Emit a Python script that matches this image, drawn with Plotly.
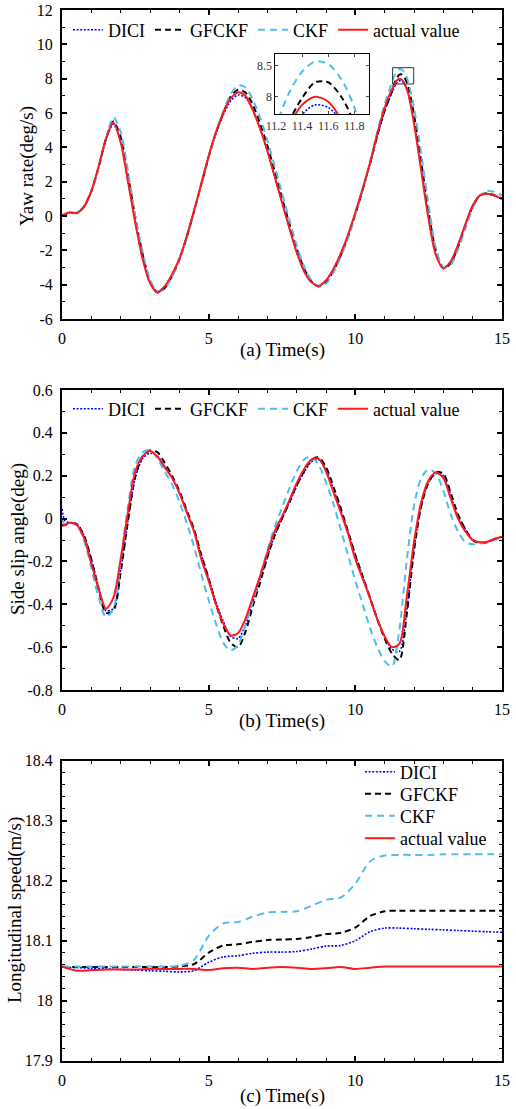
import plotly.graph_objects as go

# ---- data ----
series_names = ["DICI", "GFCKF", "CKF", "actual value"]

# (a) yaw rate
t_a = [0, 0.25, 0.5, 0.75, 1.0, 1.25, 1.5, 1.75, 2.0, 2.25, 2.5, 2.75, 3.0, 3.25, 3.5, 3.75,
       4.0, 4.25, 4.5, 4.75, 5.0, 5.25, 5.5, 5.75, 6.0, 6.25, 6.5, 6.75, 7.0, 7.25, 7.5, 7.75,
       8.0, 8.25, 8.5, 8.75, 9.0, 9.25, 9.5, 9.75, 10.0, 10.25, 10.5, 10.75, 11.0,
       11.2, 11.3, 11.4, 11.5, 11.6, 11.7, 11.8,
       12.0, 12.25, 12.5, 12.75, 13.0, 13.25, 13.5, 13.75, 14.0, 14.25, 14.5, 14.75, 15.0]
yaw_dici = [0.05, 0.2, 0.18, 0.55, 1.45, 2.85, 4.45, 5.35, 4.3, 2.05, -0.35, -2.45, -3.85, -4.4, -4.1, -3.4,
            -2.5, -1.2, 0.3, 1.85, 3.45, 4.8, 5.9, 6.7, 7.05, 6.9, 6.2, 5.1, 3.8, 2.3, 0.8, -0.7,
            -2.1, -3.2, -3.85, -4.05, -3.75, -3.1, -2.2, -1.15, 0.15, 1.5, 3.0, 4.65, 6.1,
            7.0, 7.38, 7.72, 7.87, 7.83, 7.61, 7.19,
            5.5, 2.7, -0.1, -2.25, -3.0, -2.65, -1.7, -0.5, 0.6, 1.2, 1.3, 1.18, 1.0]
yaw_gfckf = [0.02, 0.2, 0.18, 0.55, 1.45, 2.85, 4.5, 5.5, 4.6, 2.35, -0.1, -2.25, -3.8, -4.45, -4.2, -3.5,
             -2.55, -1.25, 0.25, 1.85, 3.45, 4.85, 6.0, 6.95, 7.35, 7.2, 6.5, 5.4, 4.1, 2.6, 1.05, -0.45,
             -1.9, -3.05, -3.8, -4.1, -3.85, -3.2, -2.3, -1.2, 0.1, 1.55, 3.05, 4.7, 6.15,
             7.05, 7.6, 7.98, 8.23, 8.23, 8.0, 7.57,
             5.9, 3.1, 0.2, -2.05, -3.05, -2.75, -1.8, -0.6, 0.55, 1.2, 1.32, 1.2, 1.02]
yaw_ckf = [0.05, 0.22, 0.2, 0.55, 1.4, 2.8, 4.5, 5.75, 4.9, 2.6, 0.0, -2.1, -3.7, -4.4, -4.25, -3.55,
           -2.6, -1.3, 0.2, 1.8, 3.4, 4.85, 6.1, 7.1, 7.6, 7.5, 6.8, 5.75, 4.4, 2.9, 1.35, -0.2,
           -1.7, -2.9, -3.75, -4.12, -3.95, -3.3, -2.4, -1.3, 0.05, 1.5, 3.05, 4.9, 6.5,
           7.55, 8.06, 8.40, 8.56, 8.52, 8.28, 7.83,
           6.3, 3.6, 0.6, -1.9, -3.0, -2.85, -1.95, -0.75, 0.45, 1.2, 1.45, 1.4, 1.2]
yaw_actual = [0.0, 0.2, 0.17, 0.55, 1.45, 2.9, 4.5, 5.45, 4.3, 2.0, -0.4, -2.5, -3.9, -4.45, -4.1, -3.4,
              -2.5, -1.2, 0.3, 1.9, 3.5, 4.9, 6.0, 6.85, 7.2, 7.0, 6.2, 5.1, 3.8, 2.3, 0.8, -0.7,
              -2.1, -3.2, -3.85, -4.08, -3.75, -3.1, -2.2, -1.1, 0.2, 1.6, 3.1, 4.8, 6.3,
              7.2, 7.55, 7.87, 8.0, 7.92, 7.63, 7.13,
              5.4, 2.6, -0.2, -2.3, -3.05, -2.65, -1.7, -0.5, 0.6, 1.2, 1.3, 1.18, 1.0]

# (b) side slip angle
t_b = [0, 0.1, 0.25, 0.5, 0.75, 1.0, 1.25, 1.5, 1.75, 2.0, 2.25, 2.5, 2.75, 3.0, 3.25, 3.5, 3.75,
       4.0, 4.25, 4.5, 4.75, 5.0, 5.25, 5.5, 5.75, 6.0, 6.25, 6.5, 6.75, 7.0, 7.25, 7.5, 7.75,
       8.0, 8.25, 8.5, 8.75, 9.0, 9.25, 9.5, 9.75, 10.0, 10.25, 10.5, 10.75, 11.0, 11.25, 11.5, 11.75,
       12.0, 12.25, 12.5, 12.75, 13.0, 13.25, 13.5, 13.75, 14.0, 14.25, 14.5, 14.75, 15.0]
slip_dici = [0.045, -0.01, -0.02, -0.025, -0.08, -0.19, -0.32, -0.43, -0.42, -0.24, -0.01, 0.19, 0.28, 0.305, 0.29, 0.245, 0.19,
             0.12, 0.035, -0.055, -0.17, -0.28, -0.39, -0.48, -0.55, -0.56, -0.5, -0.39, -0.29, -0.18, -0.08, 0.0, 0.075,
             0.15, 0.215, 0.265, 0.275, 0.23, 0.14, 0.04, -0.06, -0.17, -0.27, -0.37, -0.47, -0.55, -0.61, -0.62, -0.43,
             -0.14, 0.06, 0.17, 0.21, 0.2, 0.11, 0.01, -0.05, -0.1, -0.112, -0.108, -0.095, -0.085]
slip_gfckf = [-0.03, -0.03, -0.02, -0.025, -0.08, -0.19, -0.33, -0.44, -0.43, -0.25, -0.01, 0.2, 0.29, 0.318, 0.31, 0.26, 0.2,
              0.13, 0.04, -0.05, -0.17, -0.28, -0.4, -0.5, -0.58, -0.6, -0.53, -0.41, -0.3, -0.18, -0.08, 0.0, 0.075,
              0.155, 0.22, 0.275, 0.285, 0.24, 0.15, 0.05, -0.06, -0.17, -0.27, -0.37, -0.47, -0.56, -0.63, -0.66, -0.45,
              -0.15, 0.06, 0.17, 0.215, 0.21, 0.12, 0.02, -0.05, -0.1, -0.115, -0.11, -0.095, -0.085]
slip_ckf = [0.0, -0.03, -0.02, -0.03, -0.1, -0.23, -0.37, -0.46, -0.42, -0.2, 0.06, 0.25, 0.31, 0.32, 0.28, 0.22, 0.16,
            0.08, -0.02, -0.13, -0.26, -0.38, -0.49, -0.58, -0.615, -0.59, -0.5, -0.39, -0.27, -0.15, -0.04, 0.05, 0.14,
            0.22, 0.275, 0.29, 0.25, 0.17, 0.07, -0.05, -0.17, -0.29, -0.4, -0.51, -0.6, -0.665, -0.69, -0.52, -0.2,
            0.06, 0.19, 0.23, 0.21, 0.13, 0.02, -0.06, -0.11, -0.12, -0.115, -0.11, -0.1, -0.09]
slip_actual = [-0.035, -0.03, -0.02, -0.03, -0.09, -0.21, -0.33, -0.42, -0.37, -0.19, 0.03, 0.22, 0.29, 0.315, 0.29, 0.24, 0.19,
               0.12, 0.03, -0.06, -0.19, -0.29, -0.4, -0.49, -0.545, -0.535, -0.47, -0.37, -0.27, -0.16, -0.06, 0.01, 0.085,
               0.165, 0.23, 0.275, 0.28, 0.22, 0.125, 0.03, -0.07, -0.19, -0.28, -0.37, -0.47, -0.55, -0.6, -0.585, -0.37,
               -0.11, 0.08, 0.18, 0.215, 0.19, 0.095, 0.0, -0.06, -0.1, -0.11, -0.108, -0.095, -0.085]

# (c) longitudinal speed
t_c = [0, 0.5, 1, 1.5, 2, 2.5, 3, 3.5, 4, 4.5, 5, 5.5, 6, 6.5, 7, 7.5, 8, 8.5, 9, 9.5,
       10, 10.5, 11, 11.5, 12, 12.5, 13, 13.5, 14, 14.5, 15]
vx_dici = [18.056, 18.055, 18.054, 18.053, 18.052, 18.051, 18.050, 18.049, 18.048, 18.050, 18.064,
           18.073, 18.075, 18.079, 18.081, 18.081, 18.082, 18.086, 18.091, 18.092, 18.100, 18.115,
           18.121, 18.121, 18.120, 18.119, 18.118, 18.117, 18.116, 18.115, 18.114]
vx_gfckf = [18.056, 18.056, 18.056, 18.056, 18.056, 18.056, 18.056, 18.056, 18.057, 18.061, 18.080,
            18.092, 18.094, 18.098, 18.101, 18.102, 18.103, 18.106, 18.111, 18.113, 18.122, 18.141,
            18.149, 18.150, 18.150, 18.150, 18.150, 18.150, 18.150, 18.150, 18.150]
vx_ckf = [18.057, 18.057, 18.057, 18.057, 18.057, 18.057, 18.057, 18.057, 18.058, 18.068, 18.108,
          18.129, 18.131, 18.140, 18.147, 18.148, 18.149, 18.158, 18.168, 18.172, 18.195, 18.232,
          18.242, 18.243, 18.243, 18.243, 18.244, 18.244, 18.244, 18.244, 18.244]
vx_actual = [18.057, 18.050, 18.051, 18.052, 18.052, 18.052, 18.053, 18.053, 18.053, 18.053, 18.051,
             18.054, 18.055, 18.053, 18.055, 18.056, 18.055, 18.053, 18.054, 18.056, 18.053, 18.055,
             18.057, 18.057, 18.057, 18.057, 18.057, 18.057, 18.057, 18.057, 18.057]

x_ticks = [0, 5, 10, 15]
yaw_ticks = [-6, -4, -2, 0, 2, 4, 6, 8, 10, 12]
slip_ticks = [-0.8, -0.6, -0.4, -0.2, 0, 0.2, 0.4, 0.6]
slip_labels = ["-0.8", "-0.6", "-0.4", "-0.2", "0", "0.2", "0.4", "0.6"]
vx_ticks = [17.9, 18.0, 18.1, 18.2, 18.3, 18.4]
vx_labels = ["17.9", "18", "18.1", "18.2", "18.3", "18.4"]
inset_xticks = [11.2, 11.4, 11.6, 11.8]
inset_yticks = [8, 8.5]

# ---- styles ----
colors = ["#0000ff", "#000000", "#4dbeee", "#ff1a1a"]
dashes = ["2px,1.6px", "6px,4px", "7px,5px", "solid"]
widths = [1.6, 2, 2, 2]
FONT = "Liberation Serif, Times New Roman, serif"
W, H = 516, 1109


def fx(p):
    return p / W


def fy(p):
    return 1 - p / H


fig = go.Figure()

# (c) has its legend as a column: one single-entry legend per row
panels = [
    (t_a, [yaw_dici, yaw_gfckf, yaw_ckf, yaw_actual], "x", "y", ["legend"] * 4),
    (t_b, [slip_dici, slip_gfckf, slip_ckf, slip_actual], "x2", "y2", ["legend2"] * 4),
    (t_c, [vx_dici, vx_gfckf, vx_ckf, vx_actual], "x3", "y3", ["legend3", "legend4", "legend5", "legend6"]),
]
for t, ys, xa, ya, lgs in panels:
    for i, name in enumerate(series_names):
        fig.add_trace(go.Scatter(
            x=t, y=ys[i], name=name, mode="lines", xaxis=xa, yaxis=ya, legend=lgs[i],
            line=dict(color=colors[i], dash=dashes[i], width=widths[i], shape="spline", smoothing=0.8),
        ))

# inset (zoom on the third yaw peak)
for i, name in enumerate(series_names):
    fig.add_trace(go.Scatter(
        x=t_a, y=[yaw_dici, yaw_gfckf, yaw_ckf, yaw_actual][i], name=name, mode="lines",
        xaxis="x4", yaxis="y4", showlegend=False,
        line=dict(color=colors[i], dash=dashes[i], width=widths[i], shape="spline", smoothing=0.8),
    ))


def main_axis(dom, rng, tickvals, ticktext, minor_dtick, anchor):
    return dict(
        domain=dom, range=rng, anchor=anchor, tickmode="array", tickvals=tickvals, ticktext=ticktext,
        showline=True, linecolor="black", linewidth=2, mirror="ticks",
        ticks="inside", ticklen=5, tickwidth=1.5, tickcolor="black",
        minor=dict(ticks="inside", ticklen=3, tickwidth=1.2, tickcolor="black", dtick=minor_dtick, tick0=rng[0]),
        showgrid=False, zeroline=False, ticklabelstandoff=4, automargin=False,
        tickfont=dict(family=FONT, size=16, color="black"),
    )


def inset_axis(dom, rng, tickvals, anchor):
    return dict(domain=dom, range=rng, anchor=anchor,
                tickvals=tickvals, ticktext=[str(v) for v in tickvals],
                showline=True, linecolor="black", linewidth=1, mirror="ticks",
                ticks="inside", ticklen=3, tickwidth=1, showgrid=False, zeroline=False, automargin=False,
                tickfont=dict(family=FONT, size=12, color="#333333"))


legend_font = dict(family=FONT, size=18, color="black")


def legend_box(x, y, orient="h"):
    return dict(orientation=orient, x=fx(x), y=fy(y), xanchor="left", yanchor="middle",
                font=legend_font, bgcolor="rgba(0,0,0,0)", itemwidth=30)


xd = [fx(62), fx(502)]
xlabels = [str(v) for v in x_ticks]
fig.update_layout(
    xaxis=main_axis(xd, [0, 15], x_ticks, xlabels, 1, "y"),
    yaxis=main_axis([fy(319), fy(10)], [-6, 12], yaw_ticks, [str(v) for v in yaw_ticks], 1, "x"),
    xaxis2=main_axis(xd, [0, 15], x_ticks, xlabels, 1, "y2"),
    yaxis2=main_axis([fy(690), fy(390)], [-0.8, 0.6], slip_ticks, slip_labels, 0.1, "x2"),
    xaxis3=main_axis(xd, [0, 15], x_ticks, xlabels, 1, "y3"),
    yaxis3=main_axis([fy(1060.7), fy(760.7)], [17.9, 18.4], vx_ticks, vx_labels, 0.02, "x3"),
    xaxis4=inset_axis([fx(275.3), fx(368.7)], [11.195, 11.91], inset_xticks, "y4"),
    yaxis4=inset_axis([fy(114.3), fy(54)], [7.72, 8.68], inset_yticks, "x4"),
    legend=legend_box(68, 30),
    legend2=legend_box(68, 409),
    legend3=legend_box(360, 772, "v"),
    legend4=legend_box(360, 794, "v"),
    legend5=legend_box(360, 816, "v"),
    legend6=legend_box(360, 838.5, "v"),
    width=W, height=H, margin=dict(l=0, r=0, t=0, b=0),
    paper_bgcolor="white", plot_bgcolor="white",
    font=dict(family=FONT, color="black"),
)

# zoom box on the main yaw plot
fig.add_shape(type="rect", xref="x", yref="y", x0=11.27, x1=11.99, y0=7.69, y1=8.64,
              line=dict(color="#333333", width=1))

# axis titles
titles = [
    ("(a) Time(s)", 282, 350, 0), ("(b) Time(s)", 282, 721, 0), ("(c) Time(s)", 282, 1096, 0),
    ("Yaw rate(deg/s)", 27, 166, -90), ("Side slip angle(deg)", 18, 539, -90),
    ("Longitudinal speed(m/s)", 15, 910, -90),
]
for text, px_, py_, ang in titles:
    fig.add_annotation(text=text, x=fx(px_), y=fy(py_), xref="paper", yref="paper",
                       showarrow=False, textangle=ang, xanchor="center", yanchor="middle",
                       font=dict(family=FONT, size=19, color="black"))

# page body has a default 8px margin; remove it so the figure fills the window
fig.write_html("out.html", config={"displayModeBar": False},
               post_script="document.body.style.margin='0';")
